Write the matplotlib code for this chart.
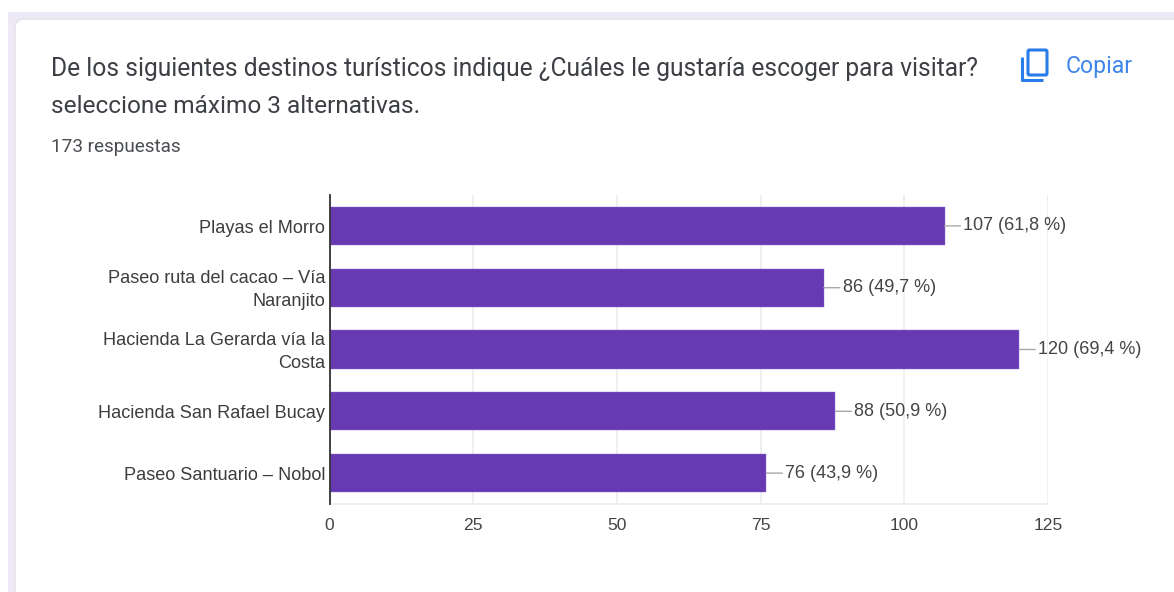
import matplotlib
matplotlib.use('Agg')
import matplotlib.pyplot as plt
from matplotlib.patches import FancyBboxPatch, Rectangle
from matplotlib.transforms import ScaledTranslation

destinos = ['Playas el Morro', 'Paseo ruta del cacao – Vía\nNaranjito', 'Hacienda La Gerarda vía la\nCosta',
            'Hacienda San Rafael Bucay', 'Paseo Santuario – Nobol']
respuestas = [107, 86, 120, 88, 76]
porcentajes = ['61,8', '49,7', '69,4', '50,9', '43,9']
ticks = [0, 25, 50, 75, 100, 125]

W, H = 1174, 592
fig = plt.figure(figsize=(W / 100, H / 100), dpi=100, facecolor='white')

# capa de fondo en pixeles: tarjeta, textos e icono
bg = fig.add_axes([0, 0, 1, 1])
bg.set_xlim(0, W)
bg.set_ylim(H, 0)
bg.axis('off')
bg.add_patch(Rectangle((8, 12), W - 8, H - 12, fc='#ede9f6', ec='none'))
bg.add_patch(FancyBboxPatch((15, 19), W + 40, H + 40, boxstyle='round,pad=0,rounding_size=9',
                            fc='white', ec='#e2e0e8', lw=1))

bg.text(51, 69, 'De los siguientes destinos turísticos indique ¿Cuáles le gustaría escoger para visitar?',
        family='Roboto', fontsize=17.7, color='#3c3f44', va='center', ha='left')
bg.text(51, 106.5, 'seleccione máximo 3 alternativas.', family='Roboto', fontsize=17.6,
        color='#3c3f44', va='center', ha='left')
bg.text(51, 147, '173 respuestas', family='Roboto', fontsize=13.6, color='#4a4d52', va='center', ha='left')

# icono de copiar
azul = '#2a7de9'
bg.add_patch(FancyBboxPatch((1028, 50), 19, 25, boxstyle='round,pad=0,rounding_size=1.5',
                            fc='none', ec=azul, lw=2.2))
bg.plot([1022, 1022, 1043], [57, 79.5, 79.5], color=azul, lw=2.2, solid_capstyle='butt', solid_joinstyle='round')
bg.text(1066, 67, 'Copiar', family='Roboto', fontsize=16.6, color='#3f86ec', va='center', ha='left')

# grafico de barras
x0, x1, y0, y1 = 329.5, 1048, 195, 504
ax = fig.add_axes([x0 / W, 1 - y1 / H, (x1 - x0) / W, (y1 - y0) / H])
ax.patch.set_alpha(0)
y = list(range(len(destinos)))
ax.barh(y, respuestas, height=0.615, color='#673ab3', edgecolor='#8e6cc9', linewidth=0.3, zorder=3)
ax.set_xlim(0, 125)
ax.set_ylim(len(destinos) - 0.5, -0.5)
ax.set_xticks(ticks)
ax.set_yticks(y)
ax.set_yticklabels(destinos, family='Liberation Sans', fontsize=13.1, color='#3d3d3d',
                   linespacing=1.5, ha='right', va='center')
ax.tick_params(axis='y', length=0, pad=3)
ax.tick_params(axis='x', length=0, pad=10, labelsize=12.6, labelcolor='#444444')
# bajar un poco los nombres respecto al centro de cada barra
bajar = ScaledTranslation(0, -2.5 / 100, fig.dpi_scale_trans)
for lab in ax.get_yticklabels():
    lab.set_transform(lab.get_transform() + bajar)
for lab in ax.get_xticklabels():
    lab.set_family('Liberation Sans')
ax.grid(axis='x', color='#ececec', lw=1.2, zorder=0)
for s in ['top', 'right']:
    ax.spines[s].set_visible(False)
ax.spines['bottom'].set_color('#ececec')
ax.spines['bottom'].set_linewidth(1.2)
ax.spines['left'].set_color('#333333')
ax.spines['left'].set_linewidth(1.3)
ax.spines['left'].set_zorder(5)

# etiquetas con linea guia
for i, (n, p) in enumerate(zip(respuestas, porcentajes)):
    ax.annotate(f'{n} ({p} %)', xy=(n, i), xytext=(13.5, 0), textcoords='offset points',
                family='Liberation Sans', fontsize=12.95, color='#444444', va='center', ha='left',
                arrowprops=dict(arrowstyle='-', color='#a8a8a8', lw=1, shrinkA=0, shrinkB=0))

fig.savefig('out.png', dpi=100)
